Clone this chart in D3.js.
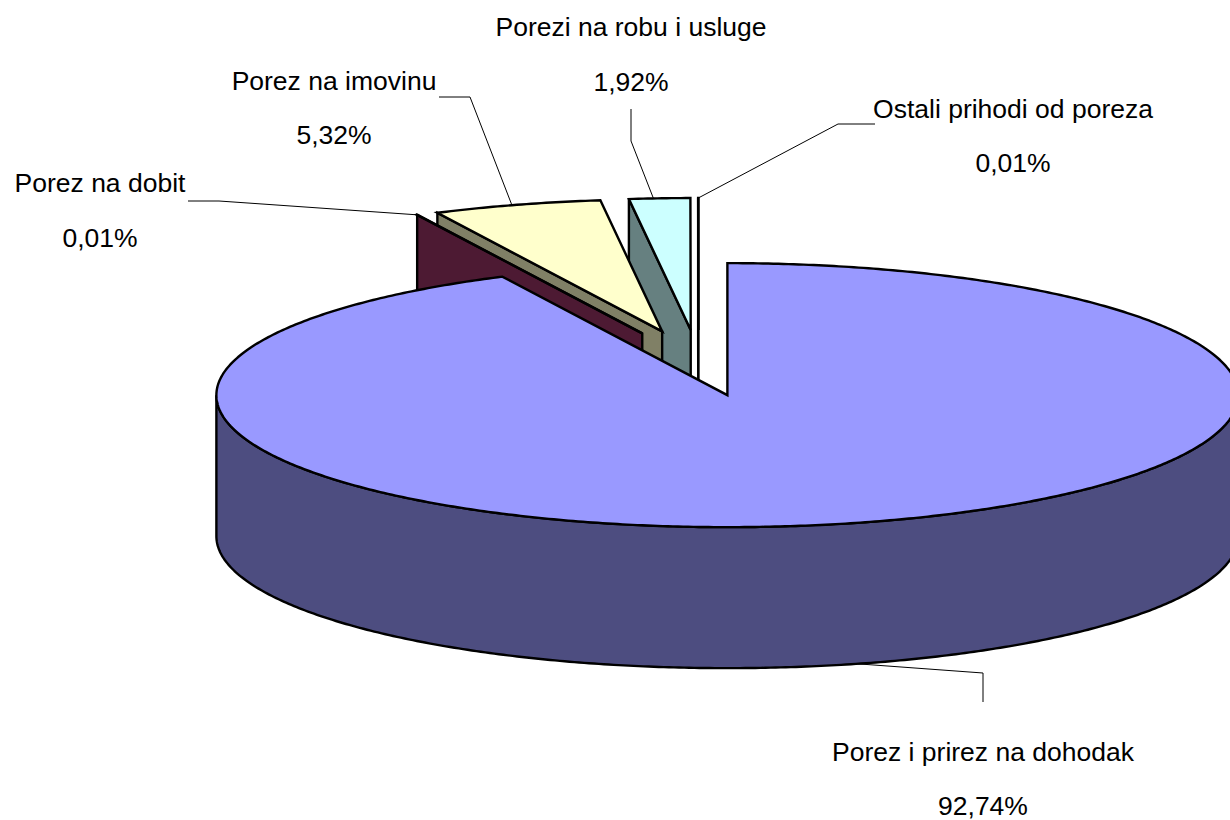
<!DOCTYPE html>
<html>
<head>
<meta charset="utf-8">
<script src="https://cdn.jsdelivr.net/npm/d3@7"></script>
<style>
  html, body { margin: 0; padding: 0; background: #fff; overflow: hidden; }
  text { font-family: "Liberation Sans", Arial, sans-serif; font-size: 26.5px; fill: #000; }
</style>
</head>
<body>
<div class="canvas"></div>
<script>
// data, clockwise from 12 o'clock
const categories = ['Porez i prirez na dohodak', 'Porez na dobit', 'Porez na imovinu', 'Porezi na robu i usluge', 'Ostali prihodi od poreza'];
const shares = [92.74, 0.01, 5.32, 1.92, 0.01];
const shareLabels = ['92,74%', '0,01%', '5,32%', '1,92%', '0,01%'];

const topColors = ['#9999ff', '#993366', '#ffffcc', '#ccffff', '#660066'];
const wallColors = ['#4d4d80', '#4d1a33', '#808066', '#668080', '#ffffff'];

// label layout: [centre x, name baseline, value baseline]
const labelPos = [[983, 761, 815], [100, 192, 247], [334, 90, 144], [631, 36, 91], [1013, 118, 172]];
// leader elbows, walking from the label towards the slice
const leaderPts = [
  [[983, 702], [983, 673]],
  [[188, 201], [219, 201]],
  [[439, 97], [470, 97]],
  [[631, 109], [631, 141]],
  [[875, 124], [838, 124]]
];
// where along the slice's rim the leader lands
const leaderFrac = [0.495, 0.5, 0.47, 0.4, 0.5];

const width = 1230, height = 820;
const cx = 698.5, cy = 363;        // centre of the pie before the slices are pulled out
const rx = 511, ry = 132;          // flattened radius
const depth = 141;                 // height of the cylinder
const explode = 0.25;              // all slices are pulled out by a quarter of the radius

const svg = d3.select('.canvas').append('svg')
  .attr('width', width)
  .attr('height', height)
  .style('display', 'block');

const slices = d3.pie().sort(null).value(d => d)(shares);
const line = d3.line();

// angle on the ellipse -> screen point, for one slice
const project = (s, a, dy = 0) => {
  const mid = (s.startAngle + s.endAngle) / 2;
  return [
    cx + rx * (explode * Math.sin(mid) + Math.sin(a)),
    cy - ry * (explode * Math.cos(mid) + Math.cos(a)) + dy
  ];
};
const apex = (s, dy = 0) => {
  const mid = (s.startAngle + s.endAngle) / 2;
  return [cx + rx * explode * Math.sin(mid), cy - ry * explode * Math.cos(mid) + dy];
};
const arcPoints = (s, a0, a1, dy = 0) => {
  const n = Math.max(1, Math.ceil((a1 - a0) / 0.01));
  return d3.range(n + 1).map(i => project(s, a0 + (a1 - a0) * i / n, dy));
};

const drawShape = (pts, fill) => svg.append('path')
  .attr('d', line(pts) + 'Z')
  .attr('fill', fill)
  .attr('stroke', '#000')
  .attr('stroke-width', 2.4)
  .attr('stroke-linejoin', 'miter');

// back slices first, the big one goes on top of everything
[4, 3, 2, 1, 0].forEach(i => {
  const s = slices[i];

  // the radial wall on the start side faces the viewer for the small slices
  if (i > 0) {
    drawShape([apex(s), project(s, s.startAngle), project(s, s.startAngle, depth), apex(s, depth)], wallColors[i]);
  }

  // outer wall, only the front half of the rim shows
  const a0 = Math.max(s.startAngle, Math.PI / 2);
  const a1 = Math.min(s.endAngle, Math.PI * 1.5);
  if (a1 > a0) {
    drawShape(arcPoints(s, a0, a1).concat(arcPoints(s, a0, a1, depth).reverse()), wallColors[i]);
  }

  drawShape([apex(s)].concat(arcPoints(s, s.startAngle, s.endAngle)), topColors[i]);
});

// leaders
slices.forEach((s, i) => {
  const a = s.startAngle + (s.endAngle - s.startAngle) * leaderFrac[i];
  const end = project(s, a, i === 0 ? depth : 0);
  svg.append('path')
    .attr('d', line(leaderPts[i].concat([end])))
    .attr('fill', 'none')
    .attr('stroke', '#000')
    .attr('stroke-width', 1);
});

// labels
categories.forEach((name, i) => {
  const [x, y0, y1] = labelPos[i];
  svg.append('text').attr('x', x).attr('y', y0).attr('text-anchor', 'middle').text(name);
  svg.append('text').attr('x', x).attr('y', y1).attr('text-anchor', 'middle').text(shareLabels[i]);
});
</script>
</body>
</html>
